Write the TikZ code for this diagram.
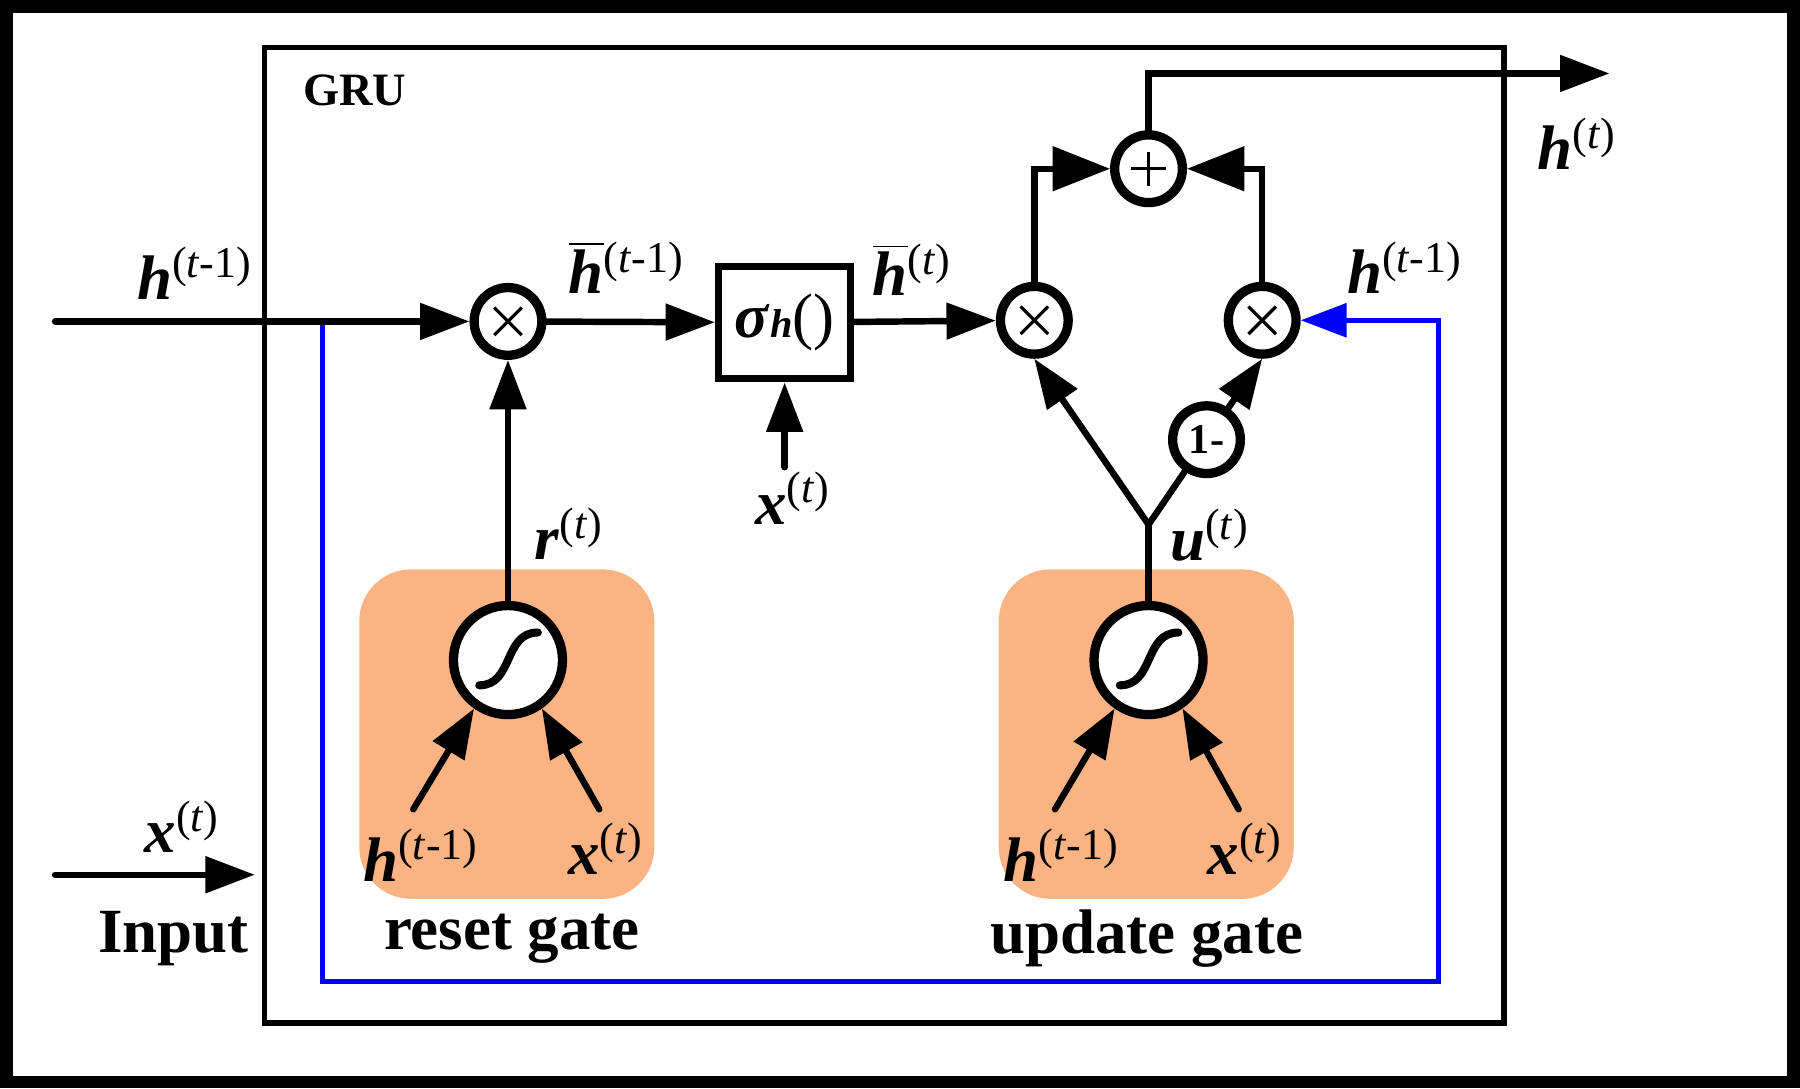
\documentclass[tikz,border=0pt]{standalone}
\usepackage{fontspec}
\setmainfont{Liberation Serif}
\usetikzlibrary{arrows.meta}
\definecolor{gatefill}{RGB}{251,179,131}
\newcommand{\gv}[2]{\textbf{\textit{#1}}\textsuperscript{(#2)}}
\newcommand{\gvb}[2]{\ensuremath{\overline{\mbox{\textbf{\textit{#1}}}}}\textsuperscript{(#2)}}

\begin{document}
\begin{tikzpicture}[
    lab/.style={inner sep=0pt, font=\fontsize{15.6}{18}\selectfont},
    arr/.style={line width=1.6pt, line cap=round, -{Triangle[length=0.43cm,width=0.31cm]}},
    big/.style={line width=1.6pt, -{Triangle[length=0.50cm,width=0.38cm]}},
    ln/.style={line width=1.6pt, line cap=round},
    blu/.style={line width=1.3pt, draw=blue, -{Triangle[length=0.40cm,width=0.29cm]}},
    opc/.style={circle, draw, line width=2.3pt, fill=white, minimum size=0.59cm, inner sep=0pt},
    mulc/.style={opc, path picture={\draw[shift={(path picture bounding box.center)}, line width=0.8pt] (-0.12,-0.12) -- (0.12,0.12) (-0.12,0.12) -- (0.12,-0.12);}},
    addc/.style={opc, path picture={\draw[shift={(path picture bounding box.center)}, line width=0.8pt] (-0.15,0) -- (0.15,0) (0,-0.15) -- (0,0.15);}},
    sigc/.style={circle, draw, line width=2.3pt, fill=white, minimum size=0.95cm, inner sep=0pt,
        path picture={\draw[shift={(path picture bounding box.center)}, line width=2pt, line cap=round] (-0.25,-0.22) .. controls (0.05,-0.22) and (-0.04,0.24) .. (0.26,0.24);}},
    gate/.style={fill=gatefill, rounded corners=0.45cm, minimum width=2.57cm, minimum height=2.87cm}
  ]
  \useasboundingbox (0,0) rectangle (15.68,-9.48);
  \draw[line width=3.1pt] (0.055,-0.055) rectangle (15.625,-9.425);
  \draw[line width=1.4pt] (2.305,-0.415) rectangle (13.10,-8.91);
  \node[inner sep=0pt, font=\fontsize{11.5}{13}\selectfont\bfseries] (gru) at (3.09,-0.79) {GRU};

  \node[gate] (g1) at (4.415,-6.395) {};
  \node[gate] (g2) at (9.985,-6.395) {};

  \node[mulc] (m1) at (4.425,-2.80) {};
  \node[draw, line width=1.8pt, minimum width=1.15cm, minimum height=0.98cm, lab] (sb) at (6.835,-2.81)
    {\textbf{\textit{σ}}{\fontsize{10}{12}\selectfont\textbf{\textit{h}}}()};
  \node[mulc] (m2) at (9.01,-2.79) {};
  \node[mulc] (m3) at (10.995,-2.79) {};
  \node[addc] (p1) at (10.005,-1.47) {};
  \node[opc, font=\fontsize{10.5}{12}\selectfont\bfseries] (om) at (10.51,-3.83) {1-};
  \node[sigc] (s1) at (4.425,-5.75) {};
  \node[sigc] (s2) at (10.005,-5.75) {};

  \node[lab] (hl) at (1.70,-2.38) {\gv{h}{\textit{t}-1}};
  \node[lab] (hb1) at (5.46,-2.33) {\gvb{h}{\textit{t}-1}};
  \node[lab] (hb2) at (7.95,-2.35) {\gvb{h}{\textit{t}}};
  \node[lab] (xs) at (6.91,-4.34) {\gv{x}{\textit{t}}};
  \node[lab] (rl) at (4.96,-4.65) {\gv{r}{\textit{t}}};
  \node[lab] (ul) at (10.54,-4.66) {\gv{u}{\textit{t}}};
  \node[lab] (hr) at (12.24,-2.33) {\gv{h}{\textit{t}-1}};
  \node[lab] (ho) at (13.74,-1.25) {\gv{h}{\textit{t}}};
  \node[lab] (h1) at (3.67,-7.45) {\gv{h}{\textit{t}-1}};
  \node[lab] (x1) at (5.28,-7.39) {\gv{x}{\textit{t}}};
  \node[lab] (h2) at (9.25,-7.45) {\gv{h}{\textit{t}-1}};
  \node[lab] (x2) at (10.85,-7.39) {\gv{x}{\textit{t}}};
  \node[lab, font=\fontsize{15.6}{18}\selectfont\bfseries] (rg) at (4.46,-8.18) {reset gate};
  \node[lab, font=\fontsize{15.6}{18}\selectfont\bfseries] (ug) at (9.99,-8.18) {update gate};
  \node[lab] (xl) at (1.59,-7.20) {\gv{x}{\textit{t}}};
  \node[lab, font=\fontsize{15.6}{18}\selectfont\bfseries] (il) at (1.51,-8.18) {Input};

  \coordinate (hin) at (0.48,-2.80);
  \coordinate (b1) at (2.81,-2.80);
  \coordinate (b2) at (2.81,-8.55);
  \coordinate (b3) at (12.53,-8.55);
  \coordinate (b4) at (12.53,-2.79);
  \coordinate (xb) at (6.835,-4.07);
  \coordinate (hout) at (14.02,-0.64);
  \coordinate (uj) at (10.005,-4.57);
  \coordinate (xin) at (0.48,-7.62);
  \coordinate (xend) at (2.22,-7.62);
  \coordinate (a1) at (3.60,-7.05);
  \coordinate (a2) at (5.22,-7.05);
  \coordinate (a3) at (9.19,-7.05);
  \coordinate (a4) at (10.79,-7.05);

  \draw[blu] (b1) -- (b2) -- (b3) -- (b4) -- (m3);
  \draw[arr] (hin) -- (m1);
  \draw[arr] (m1) -- (sb);
  \draw[arr] (sb) -- (m2);
  \draw[arr] (xb) -- (sb);
  \draw[arr] (s1) -- (m1);
  \draw[big] (m2) |- (p1);
  \draw[big] (m3) |- (p1);
  \draw[arr] (p1) |- (hout);
  \draw[ln] (s2) -- (uj);
  \draw[arr] (uj) -- (m2.south);
  \draw[ln] (uj) -- (om);
  \draw[arr] (om) -- (m3.south);
  \draw[arr] (a1) -- (s1.-125);
  \draw[arr] (a2) -- (s1.-55);
  \draw[arr] (a3) -- (s2.-125);
  \draw[arr] (a4) -- (s2.-55);
  \draw[arr] (xin) -- (xend);
\end{tikzpicture}
\end{document}
